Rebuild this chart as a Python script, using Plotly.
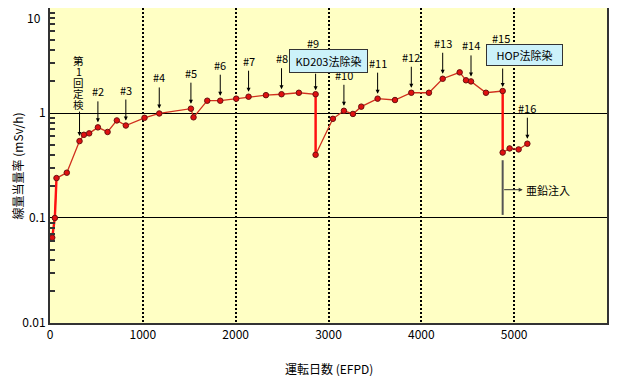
import plotly.graph_objects as go
import numpy as np

# --- data ---
efpd = [24, 52, 70, 181, 318, 365, 422, 516, 620, 720, 817, 1018, 1177, 1518, 1546,
        1694, 1834, 2006, 2139, 2326, 2494, 2681, 2861, 2861, 3047, 3166, 3263, 3353,
        3529, 3716, 3892, 4082, 4230, 4413, 4481, 4535, 4696, 4876, 4876, 4951, 5048, 5142]
dose = [0.065, 0.10, 0.24, 0.27, 0.54, 0.62, 0.64, 0.73, 0.66, 0.85, 0.76, 0.90, 0.99, 1.10, 0.91,
        1.31, 1.31, 1.37, 1.43, 1.48, 1.51, 1.56, 1.51, 0.40, 0.88, 1.05, 0.98, 1.15,
        1.37, 1.33, 1.56, 1.56, 2.12, 2.44, 2.05, 2.00, 1.56, 1.62, 0.42, 0.46, 0.45, 0.51]

x_ticks = [0, 1000, 2000, 3000, 4000, 5000, 6000]
y_ticks = [0.01, 0.1, 1, 10]
y_tick_labels = ["0.01", "0.1", "1", "10"]

# inspections (label, efpd, dose pointed at)
insp_labels = ["#2", "#3", "#4", "#5", "#6", "#7", "#8", "#10", "#11", "#12", "#13", "#14", "#16"]
insp_x = [516, 817, 1177, 1518, 1834, 2139, 2494, 3166, 3529, 3892, 4230, 4535, 5142]
insp_y = [0.73, 0.76, 0.99, 1.10, 1.31, 1.43, 1.51, 1.05, 1.37, 1.56, 2.12, 2.00, 0.51]

first_insp_chars = ["第", "1", "回", "定", "検"]

FONT = "Noto Sans CJK JP"

fig = go.Figure()

mk = dict(size=5.5, color="#e01010", line=dict(color="#6a1010", width=1))

fig.add_trace(go.Scatter(
    x=efpd, y=dose, mode="lines",
    line=dict(color="#d0301e", width=1.3),
    showlegend=False, hoverinfo="skip"))

# emphasised (thick) segments: the start and the two decontamination drops
for i0, i1 in [(0, 3), (22, 24), (37, 39)]:
    fig.add_trace(go.Scatter(
        x=efpd[i0:i1], y=dose[i0:i1], mode="lines",
        line=dict(color="#ff1010", width=2.4),
        showlegend=False, hoverinfo="skip"))

fig.add_trace(go.Scatter(
    x=efpd, y=dose, mode="markers", marker=mk,
    showlegend=False, hoverinfo="skip"))

ann = []
afont = dict(family=FONT, size=11, color="black")
arrow = dict(showarrow=True, arrowhead=2, arrowsize=0.8, arrowwidth=1, arrowcolor="black")

# first inspection (vertical text, one char per line)
ann.append(dict(x=318, y=np.log10(0.54), xref="x", yref="y", text="",
                ax=0, ay=-31, standoff=5, **arrow))
for k, ch in enumerate(first_insp_chars):
    ann.append(dict(x=318, y=np.log10(0.54), xref="x", yref="y", text=ch,
                    showarrow=False, xshift=-1, yshift=81 - 11.2 * k,
                    font=dict(family=FONT, size=10.5)))

for lab, xx, yy in zip(insp_labels, insp_x, insp_y):
    ann.append(dict(x=xx, y=np.log10(yy), xref="x", yref="y", text=lab,
                    ax=0, ay=-26, standoff=5, font=afont, yanchor="bottom", **arrow))

# #9 with KD203 box
ann.append(dict(x=2861, y=np.log10(1.51), xref="x", yref="y", text="",
                ax=0, ay=-22, standoff=4, **arrow))
ann.append(dict(x=2861, y=np.log10(1.51), xref="x", yref="y", text="#9",
                showarrow=False, yshift=51, xshift=-3, font=afont))
ann.append(dict(x=2861, y=np.log10(1.51), xref="x", yref="y", text="&nbsp;KD203法除染&nbsp;",
                showarrow=False, yshift=33, xshift=13, font=dict(family=FONT, size=11),
                bgcolor="#ccf2fa", bordercolor="#333333", borderwidth=1, borderpad=3))

# #15 with HOP box
ann.append(dict(x=4876, y=np.log10(1.62), xref="x", yref="y", text="",
                ax=0, ay=-24, standoff=4, **arrow))
ann.append(dict(x=4876, y=np.log10(1.62), xref="x", yref="y", text="#15",
                showarrow=False, yshift=53, xshift=-2, font=afont))
ann.append(dict(x=4876, y=np.log10(1.62), xref="x", yref="y",
                text="&nbsp;&nbsp;&nbsp;HOP法除染&nbsp;&nbsp;&nbsp;",
                showarrow=False, yshift=36, xshift=22, font=dict(family=FONT, size=11),
                bgcolor="#ccf2fa", bordercolor="#333333", borderwidth=1, borderpad=2))

# zinc injection
ann.append(dict(x=4876, y=np.log10(0.186), xref="x", yref="y", text="",
                showarrow=True, arrowhead=2, arrowsize=0.8, arrowwidth=1,
                arrowcolor="#333333", ax=-20, ay=0, standoff=0, xshift=20))
ann.append(dict(x=4876, y=np.log10(0.186), xref="x", yref="y", text="亜鉛注入",
                showarrow=False, xanchor="left", xshift=21, font=afont))

# top tick label (placed as annotation so it is not clipped at the page edge)
ann.append(dict(x=0, y=1, xref="paper", yref="paper", text=y_tick_labels[-1],
                showarrow=False, xanchor="right", yanchor="top", xshift=-7, yshift=1,
                font=dict(family=FONT, size=12)))

# axis titles
ann.append(dict(x=-0.0575, y=0.5, xref="paper", yref="paper", text="線量当量率 (mSv/h)",
                textangle=-90, showarrow=False, xanchor="center", yanchor="middle",
                font=dict(family=FONT, size=12)))
ann.append(dict(x=0.5, y=-0.143, xref="paper", yref="paper", text="運転日数 (EFPD)",
                showarrow=False, xanchor="center", yanchor="middle",
                font=dict(family=FONT, size=12)))

shapes = [dict(type="line", xref="x", yref="y", x0=4876, x1=4876,
               y0=0.355, y1=0.107,
               line=dict(color="#555555", width=2))]

# the page body adds an 8px offset, so the figure is 612x368 with margins set to match
fig.update_layout(
    width=612, height=368,
    margin=dict(l=42, r=13, t=0, b=53),
    paper_bgcolor="white", plot_bgcolor="#ffffc4",
    font=dict(family=FONT, size=12, color="black"),
    annotations=ann, shapes=shapes,
)

fig.update_xaxes(
    range=[0, 6000], tickvals=x_ticks, ticks="", automargin=False,
    showgrid=True, gridcolor="black", gridwidth=1.5, griddash="2px,2px",
    zeroline=False, showline=True, linecolor="#333333", linewidth=2, mirror=True,
    tickfont=dict(family=FONT, size=12),
)
minor_vals = [m * 10 ** e for e in (-2, -1, 0) for m in range(2, 10)]
fig.update_yaxes(
    type="log", range=[-2.0005, 1.0005], tickvals=y_ticks[:-1], ticktext=y_tick_labels[:-1],
    ticks="", showgrid=True, gridcolor="black", gridwidth=1, automargin=False,
    zeroline=False, showline=True, linecolor="#333333", linewidth=2, mirror=True,
    minor=dict(tickvals=minor_vals, ticks="inside", ticklen=5, tickcolor="#333333",
               tickwidth=1.5, showgrid=False),
    tickfont=dict(family=FONT, size=12),
)

fig.write_html("out.html")
